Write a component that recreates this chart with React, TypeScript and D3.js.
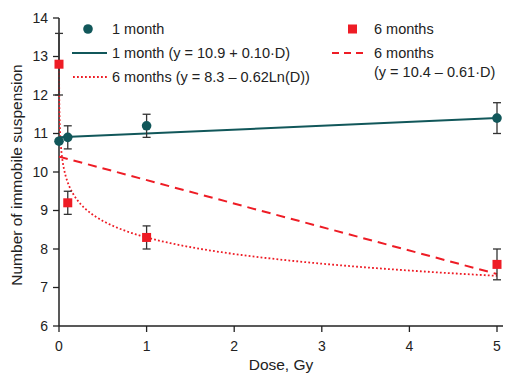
import React from "react";
import * as d3 from "d3";

const doses = [0, 0.1, 1, 5];
const oneMonth = [10.8, 10.9, 11.2, 11.4];
const oneMonthErr = [0, 0.3, 0.3, 0.4];
const sixMonths = [12.8, 9.2, 8.3, 7.6];
const sixMonthsErr = [0.8, 0.3, 0.3, 0.4];
const xTicks = [0, 1, 2, 3, 4, 5];
const yTicks = [6, 7, 8, 9, 10, 11, 12, 13, 14];
// fitted models
const fit1 = { a: 10.9, b: 0.1 };
const fit6lin = { a: 10.4, b: -0.61 };
const fit6log = { a: 8.3, b: -0.62 };

const TEAL = "#11575a";
const RED = "#ee1c25";
const AX = "#222";
const FONT = "Liberation Sans, Arial, Helvetica, sans-serif";

export default function App() {
  const W = 515, H = 378;
  const x = d3.scaleLinear().domain([0, 5]).range([59, 497]);
  const y = d3.scaleLinear().domain([6, 14]).range([326, 18]);

  const lineGen = d3.line<[number, number]>().x(d => x(d[0])).y(d => y(d[1]));
  const linPts = (f: { a: number; b: number }): [number, number][] =>
    [0, 5].map(d => [d, f.a + f.b * d] as [number, number]);
  const logDs: number[] = [];
  for (let i = 0; i <= 300; i++) {
    logDs.push(Math.exp(Math.log(0.0008) + (Math.log(5) - Math.log(0.0008)) * i / 300));
  }
  const logPts = logDs.map(d => [d, fit6log.a + fit6log.b * Math.log(d)] as [number, number]);

  const errBar = (d: number, v: number, e: number, k: string) => e > 0 ? (
    <g key={k} stroke="#333" strokeWidth={1.3}>
      <line x1={x(d)} x2={x(d)} y1={y(v - e)} y2={y(v + e)} />
      <line x1={x(d) - 4} x2={x(d) + 4} y1={y(v - e)} y2={y(v - e)} />
      <line x1={x(d) - 4} x2={x(d) + 4} y1={y(v + e)} y2={y(v + e)} />
    </g>
  ) : null;

  return (
    <svg width={W} height={H} style={{ position: "absolute", left: 0, top: 0, fontFamily: FONT }}>
      <rect width={W} height={H} fill="#fff" />
      {/* axes */}
      <line x1={x(0)} x2={x(0)} y1={y(6)} y2={y(14)} stroke={AX} strokeWidth={1.5} />
      <line x1={x(0)} x2={503} y1={y(6)} y2={y(6)} stroke={AX} strokeWidth={1.5} />
      {yTicks.map(t => (
        <g key={"y" + t}>
          <line x1={x(0) - 6} x2={x(0)} y1={y(t)} y2={y(t)} stroke={AX} strokeWidth={1.3} />
          <text x={x(0) - 11} y={y(t)} dy="0.35em" textAnchor="end" fontSize={14} fill="#222">{t}</text>
        </g>
      ))}
      {xTicks.map(t => (
        <g key={"x" + t}>
          <line x1={x(t)} x2={x(t)} y1={y(6)} y2={y(6) + 6} stroke={AX} strokeWidth={1.3} />
          <text x={x(t)} y={351} textAnchor="middle" fontSize={14} fill="#222">{t}</text>
        </g>
      ))}
      <text x={281} y={370} textAnchor="middle" fontSize={15.5} fill="#222">Dose, Gy</text>
      <text transform="translate(22,175) rotate(-90)" textAnchor="middle" fontSize={15.5} fill="#222">Number of immobile suspension</text>

      {/* fits */}
      <path d={lineGen(linPts(fit6lin)) || ""} fill="none" stroke={RED} strokeWidth={2} strokeDasharray="9,6" />
      <path d={lineGen(logPts) || ""} fill="none" stroke={RED} strokeWidth={1.8} strokeDasharray="1.8,2.2" />
      <path d={lineGen(linPts(fit1)) || ""} fill="none" stroke={TEAL} strokeWidth={2} />

      {/* error bars */}
      {doses.map((d, i) => errBar(d, sixMonths[i], sixMonthsErr[i], "e6" + i))}
      {doses.map((d, i) => errBar(d, oneMonth[i], oneMonthErr[i], "e1" + i))}

      {/* markers */}
      {doses.map((d, i) => (
        <rect key={"s" + i} x={x(d) - 4.5} y={y(sixMonths[i]) - 4.5} width={9} height={9} fill={RED} />
      ))}
      {doses.map((d, i) => (
        <circle key={"c" + i} cx={x(d)} cy={y(oneMonth[i])} r={4.8} fill={TEAL} />
      ))}

      {/* legend */}
      <g fontSize={14.5} fill="#222">
        <circle cx={88} cy={29} r={4.8} fill={TEAL} />
        <text x={112} y={29} dy="0.35em">1 month</text>
        <line x1={72} x2={107} y1={53} y2={53} stroke={TEAL} strokeWidth={2} />
        <text x={112} y={53} dy="0.35em">1 month (y = 10.9 + 0.10·D)</text>
        <line x1={73} x2={107} y1={77} y2={77} stroke={RED} strokeWidth={1.8} strokeDasharray="1.8,2.2" />
        <text x={112} y={77} dy="0.35em">6 months (y = 8.3 – 0.62Ln(D))</text>
        <rect x={348} y={24.5} width={9} height={9} fill={RED} />
        <text x={374} y={29} dy="0.35em">6 months</text>
        <line x1={332} x2={368} y1={53} y2={53} stroke={RED} strokeWidth={2} strokeDasharray="7,5" />
        <text x={374} y={53} dy="0.35em">6 months</text>
        <text x={374} y={72} dy="0.35em">(y = 10.4 – 0.61·D)</text>
      </g>
    </svg>
  );
}
